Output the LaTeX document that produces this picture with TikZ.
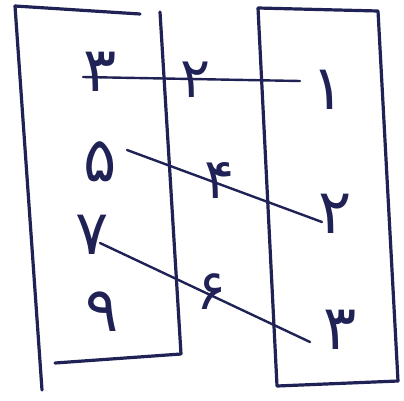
\documentclass[tikz,border=0pt]{standalone}
\usepackage{fontspec}
\newfontfamily\digfont{DejaVu Sans}
\definecolor{ink}{RGB}{32,34,86}
\begin{document}
\begin{tikzpicture}[x=1pt,y=-1pt,
  pen/.style={draw=ink,line width=3.2pt,line cap=round,line join=round},
  link/.style={draw=ink,line width=2.4pt,line cap=round},
  dig/.style={text=ink,font=\digfont\fontsize{62}{62}\selectfont,inner sep=0pt},
  middig/.style={text=ink,font=\digfont\fontsize{56}{56}\selectfont,inner sep=0pt}]
\useasboundingbox (0,0) rectangle (404,400);
\fill[white] (0,0) rectangle (404,400);
% left box
\coordinate (lA) at (15,6);
\coordinate (lB) at (42,390);
\coordinate (lC) at (140,14);
\coordinate (lD) at (160,12);
\coordinate (lE) at (181,354);
\coordinate (lF) at (55,363);
\draw[pen] (lA) -- (lB);
\draw[pen] (lA) -- (lC);
\draw[pen] (lD) -- (lE) -- (lF);
% right box
\coordinate (rA) at (258,8);
\coordinate (rB) at (378,11);
\coordinate (rC) at (398,381);
\coordinate (rD) at (277,386);
\draw[pen] (rA) -- (rB) -- (rC) -- (rD) -- (rA);
% left column
\node[dig] (l3) at (100,72) {۳};
\node[dig] (l5) at (100,162) {۵};
\node[dig] (l7) at (92,235) {۷};
\node[dig] (l9) at (102,312) {۹};
% middle column
\node[middig] (m2) at (196,80) {۲};
\node[middig] (m4) at (220,180) {۴};
\node[middig] (m6) at (212,292) {۶};
% right column
\node[dig] (r1) at (328,90) {۱};
\node[dig] (r2) at (335,214) {۲};
\node[dig] (r3) at (340,330) {۳};
% connectors
\coordinate (e1a) at (300,81);
\coordinate (e1b) at (83,77);
\coordinate (e2a) at (322,222);
\coordinate (e2b) at (127,150);
\coordinate (e3a) at (310,342);
\coordinate (e3b) at (100,243);
\draw[link] (e1a) -- (e1b);
\draw[link] (e2a) -- (e2b);
\draw[link] (e3a) -- (e3b);
\end{tikzpicture}
\end{document}
